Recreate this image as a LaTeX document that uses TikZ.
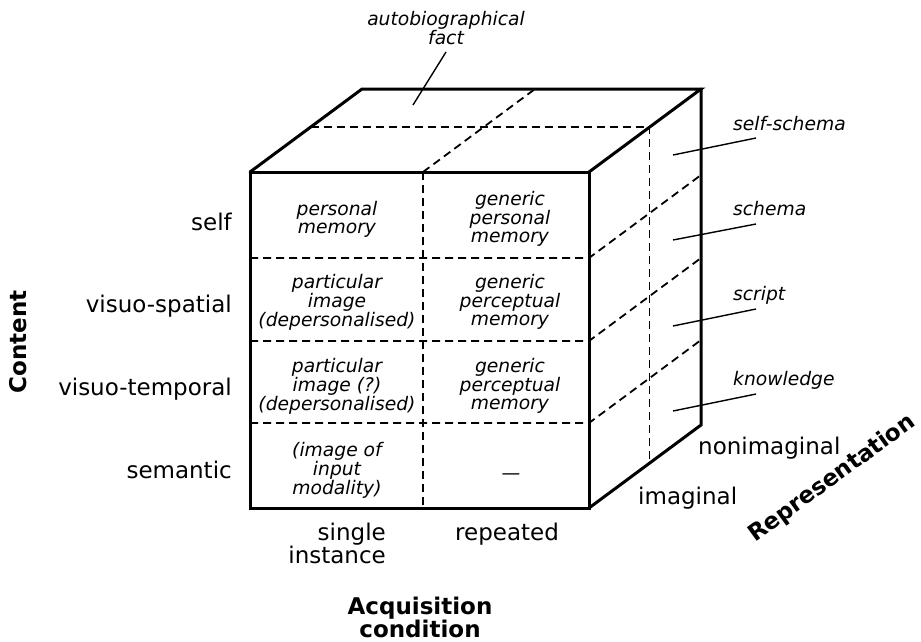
\documentclass[tikz,border=0pt]{standalone}
\usepackage{fontspec}
\setmainfont{DejaVu Sans}
\begin{document}
\begin{tikzpicture}[x=1pt,y=-1pt,
  edge/.style={line width=3pt, line join=miter, line cap=round},
  gridline/.style={line width=1.8pt, dash pattern=on 8pt off 5pt},
  leader/.style={line width=1.4pt},
  cell/.style={font=\fontsize{18.7}{18}\selectfont\itshape, align=center, inner sep=0pt},
  tag/.style={font=\fontsize{18.7}{18}\selectfont\itshape, inner sep=0pt},
  axislabel/.style={font=\fontsize{23}{22}\selectfont, inner sep=0pt},
  axistitle/.style={font=\fontsize{23}{21.5}\selectfont\bfseries, inner sep=0pt, align=center}]
\useasboundingbox (0,0) rectangle (921,641);

% front face corners
\coordinate (F1) at (250,172);
\coordinate (F2) at (589,172);
\coordinate (F3) at (589,508);
\coordinate (F4) at (250,508);
% back corners
\coordinate (B1) at (362,89);
\coordinate (B2) at (701,89);
\coordinate (B3) at (701,425);

% dividing points on the front face
\coordinate (CT) at (423,172);
\coordinate (CB) at (423,508);
\coordinate (L1) at (250,258);
\coordinate (L2) at (250,341);
\coordinate (L3) at (250,423);
\coordinate (R1) at (589,258);
\coordinate (R2) at (589,341);
\coordinate (R3) at (589,423);
% dividing points on the back edge
\coordinate (K1) at (701,175);
\coordinate (K2) at (701,258);
\coordinate (K3) at (701,340);
\coordinate (CK) at (535,89);
% mid-depth section
\coordinate (M1) at (310.5,127);
\coordinate (M2) at (649.5,127);
\coordinate (M3) at (649.5,463);

% dashed subdivisions
\draw[gridline] (CT) -- (CB);
\draw[gridline] (L1) -- (R1) -- (K1);
\draw[gridline] (L2) -- (R2) -- (K2);
\draw[gridline] (L3) -- (R3) -- (K3);
\draw[gridline] (CT) -- (CK);
\draw[gridline] (M1) -- (M2) -- (M3);

% solid cube outline
\draw[edge] (F1) rectangle (F3);
\draw[edge] (F1) -- (B1) -- (B2) -- (F2);
\draw[edge] (B2) -- (B3) -- (F3);

% cell contents
\node[cell] (c11) at (337,219) {personal\\memory};
\node[cell] (c12) at (510,219) {generic\\personal\\memory};
\node[cell] (c21) at (337,302) {particular\\image\\(depersonalised)};
\node[cell] (c22) at (510,302) {generic\\perceptual\\memory};
\node[cell] (c31) at (337,386) {particular\\image (?)\\(depersonalised)};
\node[cell] (c32) at (510,386) {generic\\perceptual\\memory};
\node[cell] (c41) at (337,470) {(image of\\input\\modality)};
\node[cell] (c42) at (511,477) {—};

% content rows
\node[axislabel, anchor=base east] (rself) at (232,230) {self};
\node[axislabel, anchor=base east] (rspat) at (232,312) {visuo-spatial};
\node[axislabel, anchor=base east] (rtemp) at (232,395) {visuo-temporal};
\node[axislabel, anchor=base east] (rsem) at (232,478) {semantic};
\node[axistitle, anchor=base, rotate=90] (content) at (27,342) {Content};

% acquisition columns
\node[axislabel, anchor=north east, align=right] (csingle) at (386,522.5) {single\\instance};
\node[axislabel, anchor=base] (crep) at (507,540) {repeated};
\node[axistitle, anchor=north] (acq) at (420,597) {Acquisition\\condition};

% representation layers
\node[axislabel, anchor=base west] (nonim) at (698,454) {nonimaginal};
\node[axislabel, anchor=base west] (imag) at (638,504) {imaginal};
\node[axistitle, anchor=base, rotate=36] (repr) at (836,484) {Representation};

% annotations with leader lines
\node[tag, anchor=north, align=center] (autofact) at (446,11) {autobiographical\\fact};
\coordinate (afA) at (446,52);
\coordinate (afB) at (413,105);
\draw[leader] (afA) -- (afB);

\node[tag, anchor=base west] (sschema) at (733,130) {self-schema};
\node[tag, anchor=base west] (schema) at (733,215) {schema};
\node[tag, anchor=base west] (script) at (733,300) {script};
\node[tag, anchor=base west] (know) at (733,385) {knowledge};
\coordinate (s1a) at (673,155);
\coordinate (s1b) at (756,138);
\coordinate (s2a) at (673,240);
\coordinate (s2b) at (756,224);
\coordinate (s3a) at (673,326);
\coordinate (s3b) at (756,309);
\coordinate (s4a) at (673,411);
\coordinate (s4b) at (756,394);
\draw[leader] (s1a) -- (s1b);
\draw[leader] (s2a) -- (s2b);
\draw[leader] (s3a) -- (s3b);
\draw[leader] (s4a) -- (s4b);
\end{tikzpicture}
\end{document}
